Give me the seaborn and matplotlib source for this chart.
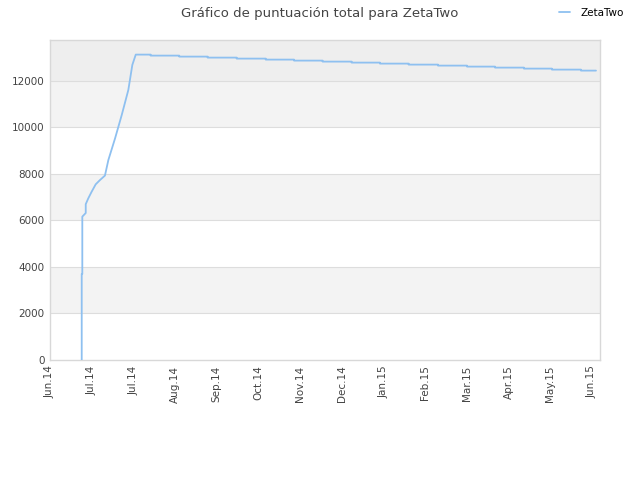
import numpy as np
import pandas as pd
import matplotlib
matplotlib.use("Agg")
import matplotlib.pyplot as plt
import seaborn as sns

# days since 5 Jun 2014 and total score
rise_days = [21.3, 21.3, 21.7, 21.7, 24.0, 24.0, 25.7, 28.0, 30.7, 33.6, 36.9,
             39.2, 43.7, 48.2, 52.6, 55.3, 57.6]
rise_scores = [0, 3700, 3700, 6165, 6320, 6700, 6950, 7240, 7555, 7740, 7930,
               8600, 9530, 10540, 11610, 12690, 13132]

# plateau: each level starts at step_days[i] and ends at step_days[i+1]
step_days = [57.6, 67.6, 86.8, 105.9, 125.4, 144.9, 163.9, 183.1, 202.6, 221.6,
             240.9, 260.6, 280.1, 298.9, 318.3, 337.1, 356.6, 366.7]
step_scores = [13132, 13089, 13046, 13003, 12960, 12917, 12874, 12831, 12788,
               12745, 12702, 12659, 12616, 12573, 12530, 12487, 12444]

tick_days = [0, 28, 56, 84, 112, 140, 168, 196, 224, 252, 280, 308, 336, 364]
tick_labels = ["Jun.14", "Jul.14", "Jul.14", "Aug.14", "Sep.14", "Oct.14", "Nov.14",
               "Dec.14", "Jan.15", "Feb.15", "Mar.15", "Apr.15", "May.15", "Jun.15"]
y_ticks = [0, 2000, 4000, 6000, 8000, 10000, 12000]

# build step line for plateau
plat_x = np.repeat(step_days, 2)[1:-1]
plat_y = np.repeat(step_scores, 2)
df = pd.DataFrame({
    "day": list(rise_days) + list(plat_x),
    "score": list(rise_scores) + list(plat_y),
    "player": "ZetaTwo",
})

sns.set_style("white")
plt.rcParams["font.family"] = ["DejaVu Sans"]

fig = plt.figure(figsize=(6.4, 4.8), dpi=100)
ax = fig.add_axes([50 / 640, 120 / 480, 550 / 640, 320 / 480])

ymax = 13760
# alternating background bands
band_cols = ["white", "#f3f3f3", "white", "#f3f3f3", "white", "#f3f3f3", "#eeeeee"]
for i, c in enumerate(band_cols):
    top = ymax if i == len(band_cols) - 1 else (i + 1) * 2000
    ax.axhspan(i * 2000, top, color=c, zorder=0, lw=0)
for yt in y_ticks[1:]:
    ax.axhline(yt, color="#dddddd", lw=0.8, zorder=1)

sns.lineplot(data=df, x="day", y="score", hue="player", sort=False, estimator=None,
             palette=["#8ec0f0"], lw=1.3, ax=ax, zorder=3)

ax.set_xlim(0, 369.4)
ax.set_ylim(0, ymax)
ax.set_xticks(tick_days)
ax.set_xticklabels(tick_labels, rotation=90)
ax.set_yticks(y_ticks)
ax.tick_params(axis="both", length=0, labelsize=7.5, colors="#444444", pad=4)
ax.set_xlabel("")
ax.set_ylabel("")
for s in ax.spines.values():
    s.set_color("#d8d8d8")
    s.set_linewidth(1)

ax.get_legend().remove()
handles, labels = ax.get_legend_handles_labels()
leg = fig.legend(handles, labels, loc="center left", bbox_to_anchor=(550 / 640, 1 - 13 / 480),
                 frameon=False, fontsize=7.5, handlelength=1.0, handletextpad=1.0)
for t in leg.get_texts():
    t.set_color("black")

fig.text(0.5, 1 - 13 / 480, "Gráfico de puntuación total para ZetaTwo",
         ha="center", va="center", fontsize=9.5, color="#444444")

fig.savefig("out.png", dpi=100)
